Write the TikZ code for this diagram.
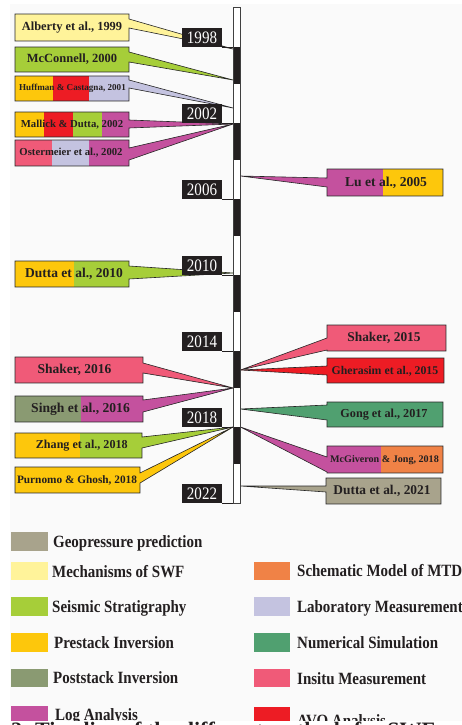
\documentclass[tikz,border=0pt]{standalone}
\usepackage{fontspec}
\setmainfont{Liberation Serif}
\newfontfamily\yrfont[FakeStretch=0.86]{Liberation Serif}
\newfontfamily\legfont[FakeStretch=0.87]{Liberation Serif}
\definecolor{cGeo}{HTML}{A8A38C}
\definecolor{cMech}{HTML}{FFF39A}
\definecolor{cSeis}{HTML}{A6CE39}
\definecolor{cPre}{HTML}{FDC70C}
\definecolor{cPost}{HTML}{8A9A72}
\definecolor{cLog}{HTML}{C4519E}
\definecolor{cMTD}{HTML}{F08246}
\definecolor{cLab}{HTML}{C4C3E0}
\definecolor{cNum}{HTML}{50A070}
\definecolor{cIns}{HTML}{F05A78}
\definecolor{cAVO}{HTML}{ED1C24}
\definecolor{cTxt}{HTML}{231F20}
\tikzset{
  outl/.style={draw=black!85,line width=0.6pt,line join=miter},
  lab/.style={font=\bfseries\fontsize{#1}{#1}\selectfont,inner sep=0pt,text=cTxt},
  yr/.style={font=\yrfont\fontsize{17.5}{17.5}\selectfont,inner sep=0pt,text=white},
  yrbox/.style={fill=cTxt},
  leg/.style={font=\legfont\bfseries\fontsize{17.2}{17.2}\selectfont,inner sep=0pt,text=cTxt,anchor=base west},
}
% left callout: x1,y1,x2,y2,wedge y1,wedge y2,target,wedge colour
\newcommand{\CallL}[8]{%
  \fill[#8] (#3,#5) -- (#7) -- (#3,#6) -- cycle;
  \draw[outl] (#1,#2) -- (#3,#2) -- (#3,#5) -- (#7) -- (#3,#6) -- (#3,#4) -- (#1,#4) -- cycle;}
% right callout: wedge on left edge x1
\newcommand{\CallR}[8]{%
  \fill[#8] (#1,#5) -- (#7) -- (#1,#6) -- cycle;
  \draw[outl] (#1,#2) -- (#3,#2) -- (#3,#4) -- (#1,#4) -- (#1,#6) -- (#7) -- (#1,#5) -- cycle;}
\newcommand{\YearLab}[2]{%
  \fill[yrbox] (182,#1-19) rectangle (222,#1);
  \draw[cTxt,line width=0.6pt] (222,#1) -- (233,#1);
  \node[yr] (y#2) at (202,#1-9.3) {#2};}
\begin{document}
\begin{tikzpicture}[x=1pt,y=-1pt]
\useasboundingbox (0,0) rectangle (462,725);
\clip (0,0) rectangle (462,725);
\fill[white] (0,0) rectangle (462,725);
\fill[black!2] (10,4) rectangle (462,725);
% targets on the bar
\coordinate (t1) at (233,49);
\coordinate (t2) at (233,80);
\coordinate (t3) at (233,108);
\coordinate (t4) at (233,124);
\coordinate (t7) at (233,273);
\coordinate (t8) at (233,388);
\coordinate (t10) at (233,427);
\coordinate (r6) at (240.5,176);
\coordinate (r12) at (240.5,370);
\coordinate (r14) at (240.5,409);
\coordinate (r15) at (240.5,427);
\coordinate (r16) at (240.5,486);
% ---- left callouts
\fill[cMech] (15,14) rectangle (129,41);
\CallL{15}{14}{129}{41}{19}{28}{t1}{cMech}
\fill[cSeis] (15,47) rectangle (129,72);
\CallL{15}{47}{129}{72}{52}{62}{t2}{cSeis}
\fill[cPre] (15,76) rectangle (53,101);
\fill[cAVO] (53,76) rectangle (89,101);
\fill[cLab] (89,76) rectangle (129,101);
\CallL{15}{76}{129}{101}{80}{88}{t3}{cLab}
\fill[cPre] (15,112) rectangle (44,137);
\fill[cAVO] (44,112) rectangle (73,137);
\fill[cSeis] (73,112) rectangle (102,137);
\fill[cLog] (102,112) rectangle (129,137);
\CallL{15}{112}{129}{137}{120}{128}{t4}{cLog}
\fill[cIns] (15,140) rectangle (52,166);
\fill[cLab] (52,140) rectangle (89,166);
\fill[cLog] (89,140) rectangle (129,166);
\CallL{15}{140}{129}{166}{148}{160}{t4}{cLog}
\fill[cPre] (15,261) rectangle (74,287);
\fill[cSeis] (74,261) rectangle (129,287);
\CallL{15}{261}{129}{287}{266}{279}{t7}{cSeis}
\fill[cIns] (15,357) rectangle (143,383);
\CallL{15}{357}{143}{383}{363}{373}{t8}{cIns}
\fill[cPost] (15,396) rectangle (81,422);
\fill[cLog] (81,396) rectangle (143,422);
\CallL{15}{396}{143}{422}{400}{412}{t8}{cLog}
\fill[cPre] (15,433) rectangle (80,458);
\fill[cSeis] (80,433) rectangle (142,458);
\CallL{15}{433}{142}{458}{437}{448}{t10}{cSeis}
\fill[cPre] (15,467) rectangle (140,493);
\CallL{15}{467}{140}{493}{473}{483}{t10}{cPre}
% ---- right callouts
\fill[cLog] (327,169) rectangle (383,196);
\fill[cPre] (383,169) rectangle (443,196);
\CallR{327}{169}{443}{196}{178}{187}{r6}{cLog}
\fill[cIns] (327,325) rectangle (446,351);
\CallR{327}{325}{446}{351}{338}{350}{r12}{cIns}
\fill[cAVO] (327,358) rectangle (444,383);
\CallR{327}{358}{444}{383}{366}{375}{r12}{cAVO}
\fill[cNum] (327,402) rectangle (443,427);
\CallR{327}{402}{443}{427}{405}{420}{r14}{cNum}
\fill[cLog] (327,446) rectangle (381,473);
\fill[cMTD] (381,446) rectangle (443,473);
\CallR{327}{446}{443}{473}{457}{472}{r15}{cLog}
\fill[cGeo] (326,478) rectangle (441,504);
\CallR{326}{478}{441}{504}{486}{492}{r16}{cGeo}
% ---- timeline bar
\draw[fill=white,draw=black!75,line width=0.7pt] (233,7) rectangle (240.5,503);
\foreach \k in {0,...,5}{\fill[cTxt] (233,47+76*\k) rectangle (240.5,84+76*\k);}
\draw[draw=black!75,line width=0.7pt] (233,7) rectangle (240.5,503);
% ---- year labels
\YearLab{47}{1998}
\YearLab{123}{2002}
\YearLab{199}{2006}
\YearLab{275}{2010}
\YearLab{351}{2014}
\YearLab{427}{2018}
\YearLab{503}{2022}
% ---- callout texts
\node[lab=12.4] (nAlb) at (72,27.5) {Alberty et al., 1999};
\node[lab=12.5] (nMcC) at (72,59.5) {McConnell, 2000};
\node[lab=9.1] (nHuf) at (72.5,88.5) {Huffman \& Castagna, 2001};
\node[lab=10.7] (nMal) at (72,125) {Mallick \& Dutta, 2002};
\node[lab=10.7] (nOst) at (71,153) {Ostermeier et al., 2002};
\node[lab=13.5] (nDut10) at (74,274) {Dutta et al., 2010};
\node[lab=13.5] (nSha16) at (74.5,370) {Shaker, 2016};
\node[lab=13.6] (nSin) at (80.5,409) {Singh et al., 2016};
\node[lab=12.1] (nZha) at (81.8,445.5) {Zhang et al., 2018};
\node[lab=11.3] (nPur) at (77,480) {Purnomo \& Ghosh, 2018};
\node[lab=13.6] (nLu) at (386,183) {Lu et al., 2005};
\node[lab=13.4] (nSha15) at (384,338) {Shaker, 2015};
\node[lab=11.8] (nGhe) at (385,371.5) {Gherasim et al., 2015};
\node[lab=12.2] (nGon) at (384,415) {Gong et al., 2017};
\node[lab=10.1] (nMcG) at (384.5,460.5) {McGiveron \& Jong, 2018};
\node[lab=13.4] (nDut21) at (382,491) {Dutta et al., 2021};
% ---- legend
\fill[cGeo] (11,532) rectangle (48,551);
\node[leg] (lGeo) at (53,547) {Geopressure prediction};
\fill[cMech] (11,562) rectangle (48,580);
\node[leg] (lMech) at (52,577) {Mechanisms of SWF};
\fill[cSeis] (11,597) rectangle (48,616);
\node[leg] (lSeis) at (52,612) {Seismic Stratigraphy};
\fill[cPre] (11,633) rectangle (48,652);
\node[leg] (lPre) at (54,648) {Prestack Inversion};
\fill[cPost] (11,669) rectangle (48,687);
\node[leg] (lPost) at (53,683.5) {Poststack Inversion};
\fill[cLog] (11,706) rectangle (48,725);
\node[leg] (lLog) at (55,720.5) {Log Analysis};
\fill[cMTD] (254,562) rectangle (290,580);
\node[leg] (lMTD) at (297,576) {Schematic Model of MTDs};
\fill[cLab] (254,597) rectangle (290,616);
\node[leg] (lLab) at (297,612.5) {Laboratory Measurement};
\fill[cNum] (254,633) rectangle (290,652);
\node[leg] (lNum) at (297,648) {Numerical Simulation};
\fill[cIns] (254,669) rectangle (290,687);
\node[leg] (lIns) at (297,684) {Insitu Measurement};
\fill[cAVO] (254,707) rectangle (290,725);
\node[leg] (lAVO) at (297,726) {AVO Analysis};
% ---- caption (cut by the page edge)
\fill[white] (0,720.5) rectangle (462,726);
\node[font=\bfseries\fontsize{22}{22}\selectfont,inner sep=0pt,anchor=base west,text=cTxt] (cap) at (11,737) {2. Timeline of the different methods for SWF};
\end{tikzpicture}
\end{document}
